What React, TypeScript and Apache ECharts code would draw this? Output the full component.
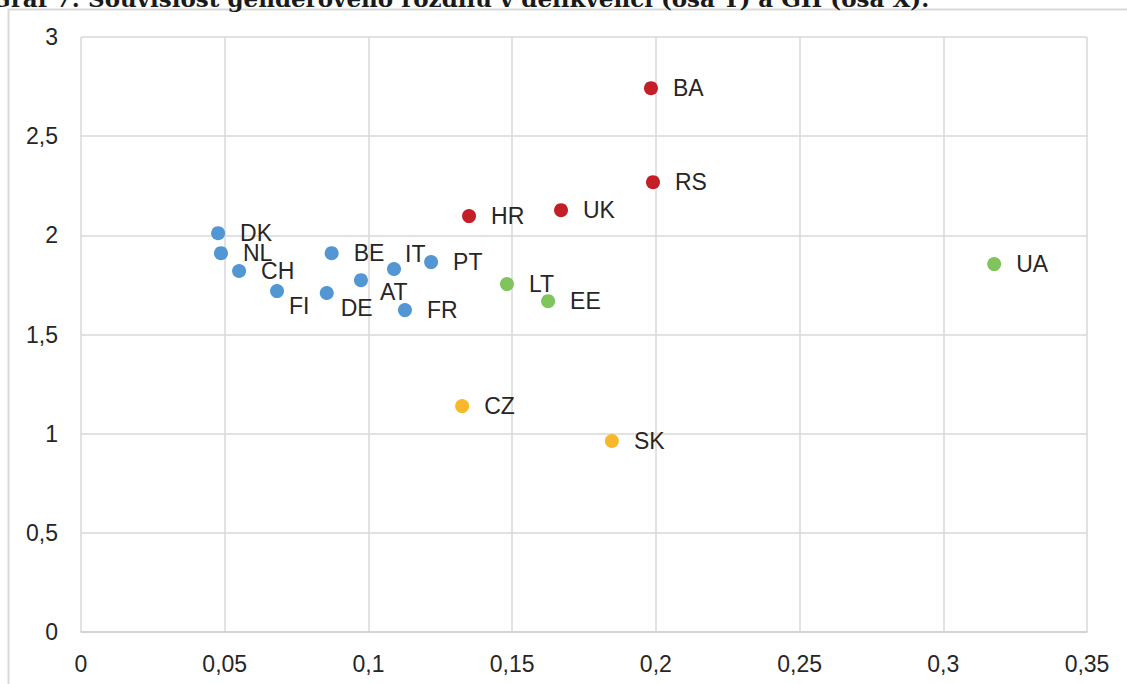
import React, { useEffect, useRef } from "react";
import * as echarts from "echarts";

const TITLE = "Graf 7: Souvislost genderového rozdílu v delikvenci (osa Y) a GII (osa X).";

const xTicks = { min: 0, max: 0.35, interval: 0.05 };
const yTicks = { min: 0, max: 3, interval: 0.5 };

// [country, GII (x), gender gap (y)]
const bluePoints: [string, number, number][] = [
  ["DK", 0.0477, 2.011],
  ["NL", 0.0487, 1.91],
  ["CH", 0.055, 1.82],
  ["FI", 0.0682, 1.719],
  ["DE", 0.0855, 1.709],
  ["BE", 0.0872, 1.91],
  ["AT", 0.0974, 1.774],
  ["IT", 0.1089, 1.83],
  ["PT", 0.1218, 1.865],
  ["FR", 0.1127, 1.623],
];
const redPoints: [string, number, number][] = [
  ["HR", 0.135, 2.097],
  ["UK", 0.167, 2.127],
  ["BA", 0.1983, 2.742],
  ["RS", 0.199, 2.268],
];
const greenPoints: [string, number, number][] = [
  ["LT", 0.1482, 1.754],
  ["EE", 0.1625, 1.668],
  ["UA", 0.3177, 1.855],
];
const yellowPoints: [string, number, number][] = [
  ["CZ", 0.1326, 1.139],
  ["SK", 0.1847, 0.963],
];

const labelOffsets: Record<string, [number, number]> = {
  FI: [-10, 15],
  DE: [-8, 15],
  AT: [-3, 12],
  IT: [-11, -15],
};

const COLORS = { blue: "#5296d3", red: "#c41f28", green: "#80c45e", yellow: "#f9b82c" };

const fmt = (v: number) => String(Number(v.toFixed(2))).replace(".", ",");

function makeSeries(points: [string, number, number][], color: string) {
  return {
    type: "scatter",
    symbolSize: 14,
    itemStyle: { color, opacity: 1 },
    label: {
      show: true,
      position: "right",
      distance: 15,
      formatter: (p: any) => p.name,
      fontSize: 23,
      color: "#262626",
      fontFamily: "Liberation Sans, Arial, sans-serif",
    },
    data: points.map(([n, x, y]) => ({
      name: n,
      value: [x, y],
      label: labelOffsets[n] ? { offset: labelOffsets[n] } : undefined,
    })),
  };
}

export default function App() {
  const ref = useRef<HTMLDivElement>(null);
  useEffect(() => {
    if (!ref.current) return;
    const chart = echarts.init(ref.current, undefined, { renderer: "svg" });
    const axisLabel = {
      fontSize: 23,
      color: "#262626",
      fontFamily: "Liberation Sans, Arial, sans-serif",
      formatter: (v: number) => fmt(v),
    };
    chart.setOption({
      animation: false,
      backgroundColor: "#ffffff",
      graphic: [
        {
          type: "rect",
          shape: { x: 8.5, y: 9.5, width: 1300, height: 900 },
          style: { fill: "none", stroke: "#d9d9d9", lineWidth: 2 },
          silent: true,
        },
        {
          type: "text",
          x: -9,
          y: 10,
          style: {
            text: TITLE,
            fontSize: 23,
            fontWeight: "bold",
            fontFamily: "DejaVu Serif, serif",
            fill: "#1a1a1a",
            verticalAlign: "bottom",
          },
          silent: true,
        },
      ],
      grid: { left: 81, right: 40, top: 37, bottom: 52, containLabel: false },
      xAxis: {
        type: "value",
        min: xTicks.min,
        max: xTicks.max,
        interval: xTicks.interval,
        axisLine: { show: true, lineStyle: { color: "#d0d0d0", width: 1.5 } },
        axisTick: { show: false },
        splitLine: { show: true, lineStyle: { color: "#d9d9d9", width: 1.5 } },
        axisLabel: { ...axisLabel, margin: 20 },
      },
      yAxis: {
        type: "value",
        min: yTicks.min,
        max: yTicks.max,
        interval: yTicks.interval,
        axisLine: { show: false },
        axisTick: { show: false },
        splitLine: { show: true, lineStyle: { color: "#d9d9d9", width: 1.5 } },
        axisLabel: { ...axisLabel, margin: 23 },
      },
      series: [
        makeSeries(bluePoints, COLORS.blue),
        makeSeries(redPoints, COLORS.red),
        makeSeries(greenPoints, COLORS.green),
        makeSeries(yellowPoints, COLORS.yellow),
      ],
    });
    return () => chart.dispose();
  }, []);
  return (
    <div
      ref={ref}
      style={{ position: "absolute", left: 0, top: 0, width: 1127, height: 684 }}
    />
  );
}
